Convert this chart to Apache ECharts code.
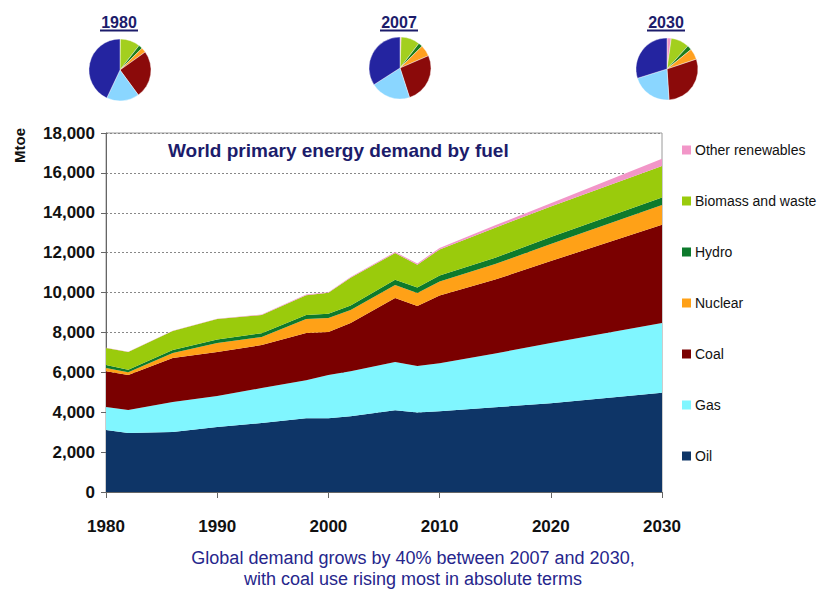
<!DOCTYPE html>
<html>
<head>
<meta charset="utf-8">
<script src="https://cdn.jsdelivr.net/npm/echarts@6/dist/echarts.min.js"></script>
<style>
html,body{margin:0;padding:0;background:#fff;}
#wrap{position:relative;width:822px;height:590px;}
#c{width:822px;height:590px;}
#ylab{position:absolute;left:11px;top:125px;width:16px;height:40px;line-height:16px;text-align:center;
  font:bold 15px 'Liberation Sans', Arial, sans-serif;color:#111;writing-mode:sideways-lr;}
</style>
</head>
<body>
<div id="wrap"><div id="c"></div><div id="ylab">Mtoe</div></div>
<script>
// ---- data (Mtoe) ----
var years    = [1980, 1982, 1986, 1990, 1994, 1998, 2000, 2002, 2006, 2008, 2010, 2015, 2020, 2030];
var oil      = [3110, 2960, 3010, 3260, 3460, 3700, 3700, 3800, 4100, 3980, 4050, 4250, 4450, 4980];
var gas      = [1150, 1150, 1500, 1550, 1750, 1900, 2170, 2250, 2420, 2340, 2400, 2700, 3020, 3490];
var coal     = [1790, 1760, 2210, 2210, 2160, 2370, 2150, 2420, 3210, 3010, 3400, 3700, 4110, 4930];
var nuclear  = [170, 130, 250, 450, 400, 700, 700, 650, 650, 650, 710, 780, 850, 990];
var hydro    = [150, 130, 150, 180, 190, 200, 220, 225, 260, 270, 300, 320, 350, 380];
var biomass  = [850, 890, 950, 1020, 910, 1000, 1050, 1400, 1340, 1150, 1300, 1500, 1530, 1570];
var otherRen = [15, 15, 20, 20, 25, 30, 30, 40, 50, 60, 80, 120, 170, 370];
// pie shares (order: other, biomass, hydro, nuclear, coal, gas, oil)
var pie1980 = [12, 749, 148, 186, 1792, 1234, 3107];
var pie2007 = [74, 1176, 265, 709, 3184, 2512, 4093];
var pie2030 = [370, 1604, 402, 956, 4887, 3561, 5009];
var pieYears = ['1980', '2007', '2030'];
var fuelNames = ['Other renewables', 'Biomass and waste', 'Hydro', 'Nuclear', 'Coal', 'Gas', 'Oil'];
var xLabels = ['1980', '1990', '2000', '2010', '2020', '2030'];
var firstYear = 1980, lastYear = 2030;

// ---- styles ----
var areaColors = {
  'Oil': '#0e3567', 'Gas': '#80f6ff', 'Coal': '#7a0000', 'Nuclear': '#ffa117',
  'Hydro': '#0d7a2c', 'Biomass and waste': '#9acb0c', 'Other renewables': '#f296c8'
};
var pieColors = ['#f296c8', '#a3cf1e', '#1b7d1b', '#ffa020', '#8b0a0a', '#8ad6ff', '#2424a0'];
var sans = "'Liberation Sans', Arial, sans-serif";
var navy = '#1c1c6b';

var yearCats = [];
for (var y = firstYear; y <= lastYear; y++) yearCats.push(String(y));

function pairs(arr) { return years.map(function (y, i) { return [String(y), arr[i]]; }); }

var stackOrder = [['Oil', oil], ['Gas', gas], ['Coal', coal], ['Nuclear', nuclear],
                  ['Hydro', hydro], ['Biomass and waste', biomass], ['Other renewables', otherRen]];

var series = stackOrder.map(function (s) {
  return {
    name: s[0], type: 'line', stack: 'total', data: pairs(s[1]),
    showSymbol: false, symbol: 'none', smooth: false,
    lineStyle: { width: 0, color: areaColors[s[0]] },
    itemStyle: { color: areaColors[s[0]] },
    areaStyle: { color: areaColors[s[0]], opacity: 1 },
    emphasis: { disabled: true }, z: 2
  };
});

var pieCenters = [[120, 70], [400, 68], [667, 69]];
[pie1980, pie2007, pie2030].forEach(function (arr, k) {
  series.push({
    type: 'pie', center: pieCenters[k], radius: 31, startAngle: 90, clockwise: true,
    label: { show: false }, labelLine: { show: false }, silent: true,
    itemStyle: { borderColor: '#ffffff', borderWidth: 0.4 },
    data: arr.map(function (v, i) { return { name: 'p' + i, value: v, itemStyle: { color: pieColors[i] } }; })
  });
});

var graphics = [];
pieYears.forEach(function (t, k) {
  var cx = pieCenters[k][0];
  graphics.push({ type: 'text', x: cx - 1, y: 22,
    style: { text: t, font: "bold 16px " + sans, fill: navy, align: 'center', verticalAlign: 'middle' } });
  graphics.push({ type: 'line', shape: { x1: cx - 20, y1: 30.5, x2: cx + 18, y2: 30.5 },
    style: { stroke: navy, lineWidth: 2 } });
});
graphics.push({ type: 'text', x: 168, y: 150,
  style: { text: 'World primary energy demand by fuel', font: "bold 19px " + sans, fill: navy, verticalAlign: 'middle' } });
graphics.push({ type: 'text', x: 413, y: 547,
  style: { text: 'Global demand grows by 40% between 2007 and 2030,\nwith coal use rising most in absolute terms',
    font: "18px " + sans, fill: '#26268c', align: 'center', lineHeight: 21 } });

var chart = echarts.init(document.getElementById('c'), null, { renderer: 'svg' });
chart.setOption({
  backgroundColor: '#ffffff',
  animation: false,
  grid: { left: 106, right: 160, top: 133, bottom: 98, show: true, borderColor: '#9a9a9a', borderWidth: 1, backgroundColor: 'transparent' },
  legend: {
    data: fuelNames, orient: 'vertical', left: 677, top: 137, itemGap: 35,
    itemWidth: 9, itemHeight: 9, icon: 'rect', selectedMode: false,
    textStyle: { fontFamily: sans, fontSize: 14, lineHeight: 16, color: '#111', padding: [0, 0, 0, -1] }
  },
  xAxis: {
    type: 'category', data: yearCats, boundaryGap: false,
    axisLine: { show: true, lineStyle: { color: '#666', width: 1 } },
    axisTick: { show: true, length: 6, lineStyle: { color: '#666' },
      interval: function (i, v) { return xLabels.indexOf(v) >= 0; } },
    splitLine: { show: false },
    axisLabel: { margin: 26, fontFamily: sans, fontWeight: 'bold', fontSize: 17, color: '#111',
      interval: function (i, v) { return xLabels.indexOf(v) >= 0; } }
  },
  yAxis: {
    type: 'value', min: 0, max: 18000, interval: 2000,
    axisLine: { show: true, lineStyle: { color: '#666', width: 1 } },
    axisTick: { show: true, length: 5, lineStyle: { color: '#666' } },
    splitLine: { show: true, lineStyle: { color: '#888', type: [2, 2], width: 1 } },
    axisLabel: { margin: 11, fontFamily: sans, fontWeight: 'bold', fontSize: 17, color: '#111',
      formatter: function (v) { return v.toLocaleString('en-US'); } }
  },
  graphic: graphics,
  series: series
});
</script>
</body>
</html>
